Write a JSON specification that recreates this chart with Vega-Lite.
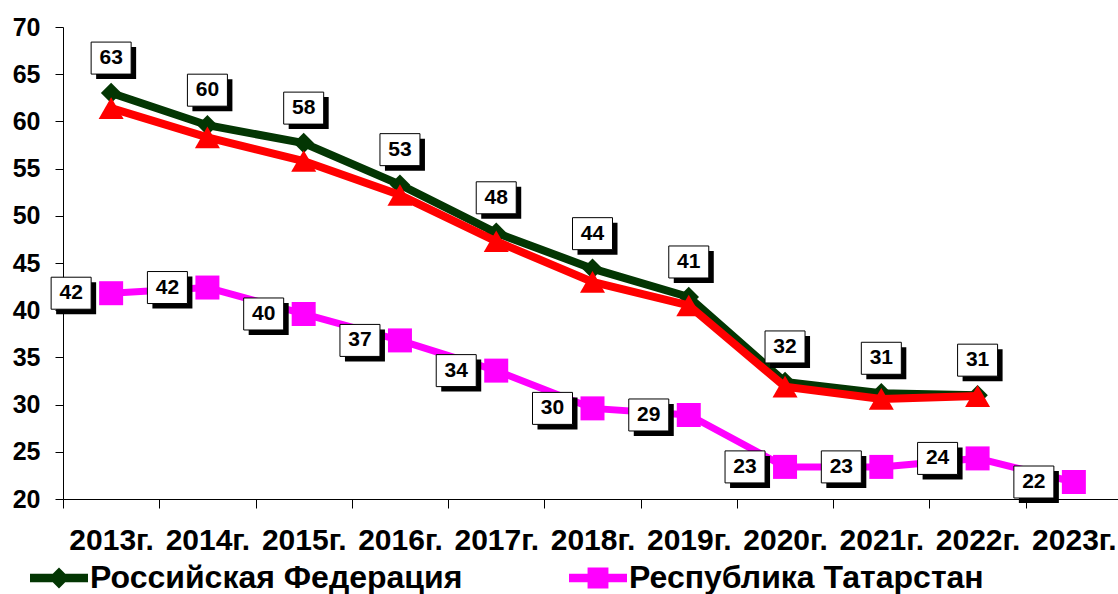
{
  "$schema": "https://vega.github.io/schema/vega-lite/v6.json",
  "width": 1055,
  "height": 472,
  "autosize": {"type": "none"},
  "padding": {"left": 63, "top": 27, "right": 0, "bottom": 95},
  "background": "white",
  "config": {
    "view": {"stroke": null},
    "axis": {"labelFont": "Liberation Sans", "labelFontWeight": "bold", "labelColor": "black", "domainColor": "black", "tickColor": "black", "domainWidth": 1, "tickWidth": 1, "grid": false, "title": null}
  },
  "data": {"values": [
    {"year": "2013г.", "series": "Российская Федерация", "value": 63.0},
    {"year": "2014г.", "series": "Российская Федерация", "value": 59.6},
    {"year": "2015г.", "series": "Российская Федерация", "value": 57.7},
    {"year": "2016г.", "series": "Российская Федерация", "value": 53.3},
    {"year": "2017г.", "series": "Российская Федерация", "value": 48.2},
    {"year": "2018г.", "series": "Российская Федерация", "value": 44.4},
    {"year": "2019г.", "series": "Российская Федерация", "value": 41.4},
    {"year": "2020г.", "series": "Российская Федерация", "value": 32.4},
    {"year": "2021г.", "series": "Российская Федерация", "value": 31.2},
    {"year": "2022г.", "series": "Российская Федерация", "value": 31.0},
    {"year": "2013г.", "series": "ПФО", "value": 61.4},
    {"year": "2014г.", "series": "ПФО", "value": 58.3},
    {"year": "2015г.", "series": "ПФО", "value": 55.8},
    {"year": "2016г.", "series": "ПФО", "value": 52.2},
    {"year": "2017г.", "series": "ПФО", "value": 47.3},
    {"year": "2018г.", "series": "ПФО", "value": 43.0},
    {"year": "2019г.", "series": "ПФО", "value": 40.5},
    {"year": "2020г.", "series": "ПФО", "value": 31.9},
    {"year": "2021г.", "series": "ПФО", "value": 30.6},
    {"year": "2022г.", "series": "ПФО", "value": 30.9},
    {"year": "2013г.", "series": "Республика Татарстан", "value": 41.8},
    {"year": "2014г.", "series": "Республика Татарстан", "value": 42.4},
    {"year": "2015г.", "series": "Республика Татарстан", "value": 39.6},
    {"year": "2016г.", "series": "Республика Татарстан", "value": 36.8},
    {"year": "2017г.", "series": "Республика Татарстан", "value": 33.6},
    {"year": "2018г.", "series": "Республика Татарстан", "value": 29.6},
    {"year": "2019г.", "series": "Республика Татарстан", "value": 28.9},
    {"year": "2020г.", "series": "Республика Татарстан", "value": 23.4},
    {"year": "2021г.", "series": "Республика Татарстан", "value": 23.4},
    {"year": "2022г.", "series": "Республика Татарстан", "value": 24.3},
    {"year": "2023г.", "series": "Республика Татарстан", "value": 21.8}
  ]},
  "encoding": {
    "x": {"field": "year", "type": "ordinal", "sort": null,
      "scale": {"type": "band", "paddingInner": 0, "paddingOuter": 0, "range": [0, 1059]},
      "axis": {"labelAngle": 0, "labelFontSize": 30, "tickSize": 9, "tickBand": "extent", "labelPadding": 17, "labelOverlap": false, "labelBound": false, "labelLimit": 0}},
    "y": {"field": "value", "type": "quantitative",
      "scale": {"domain": [20, 70], "zero": false, "nice": false},
      "axis": {"values": [20, 25, 30, 35, 40, 45, 50, 55, 60, 65, 70], "labelFontSize": 25, "tickSize": 8, "labelPadding": 15}}
  },
  "layer": [
    {
      "transform": [{"filter": "datum.series === 'Российская Федерация'"}],
      "mark": {"type": "line", "strokeWidth": 8},
      "encoding": {"color": {"field": "series", "type": "nominal",
        "scale": {"domain": ["Российская Федерация", "Республика Татарстан", "ПФО"], "range": ["#033603", "#ff00ff", "#ff0000"]},
        "legend": {"orient": "none", "legendX": -33, "legendY": 522, "columns": 2, "columnPadding": 106, "symbolSize": 3364,
          "labelFont": "Liberation Sans", "labelFontSize": 32, "labelFontWeight": "bold", "labelColor": "black", "labelOffset": 2, "labelLimit": 0,
          "title": null, "values": ["Российская Федерация", "Республика Татарстан"],
          "encode": {"symbols": {"update": {
            "shape": {"signal": "datum.value === 'Российская Федерация' ? 'M-1,-0.15H1V0.15H-1Z M0,-0.36L0.36,0L0,0.36L-0.36,0Z' : 'M-1,-0.15H1V0.15H-1Z M-0.36,-0.36H0.36V0.36H-0.36Z'"},
            "fill": {"signal": "datum.value === 'Российская Федерация' ? '#033603' : '#ff00ff'"},
            "fillOpacity": {"value": 1},
            "strokeWidth": {"value": 0}
          }}}}}}
    },
    {
      "transform": [{"filter": "datum.series === 'Российская Федерация'"}],
      "mark": {"type": "point", "shape": "diamond", "filled": true, "size": 420, "opacity": 1},
      "encoding": {"color": {"field": "series", "type": "nominal"}}
    },
    {
      "transform": [{"filter": "datum.series === 'ПФО'"}],
      "mark": {"type": "line", "strokeWidth": 8},
      "encoding": {"color": {"field": "series", "type": "nominal"}}
    },
    {
      "transform": [{"filter": "datum.series === 'ПФО'"}],
      "mark": {"type": "point", "shape": "triangle-up", "filled": true, "size": 625, "opacity": 1},
      "encoding": {"color": {"field": "series", "type": "nominal"}}
    },
    {
      "transform": [{"filter": "datum.series === 'Республика Татарстан'"}],
      "mark": {"type": "line", "strokeWidth": 7},
      "encoding": {"color": {"field": "series", "type": "nominal"}}
    },
    {
      "transform": [{"filter": "datum.series === 'Республика Татарстан'"}],
      "mark": {"type": "point", "shape": "square", "filled": true, "size": 576, "opacity": 1},
      "encoding": {"color": {"field": "series", "type": "nominal"}}
    },
    {
      "transform": [{"filter": "datum.series === 'Российская Федерация'"}],
      "mark": {"type": "point", "shape": "M-1,-0.8H1V0.8H-1Z", "size": 1600, "filled": true, "fill": "black", "opacity": 1, "strokeWidth": 0, "xOffset": 5, "yOffset": -30}
    },
    {
      "transform": [{"filter": "datum.series === 'Российская Федерация'"}],
      "mark": {"type": "point", "shape": "M-1,-0.8H1V0.8H-1Z", "size": 1600, "filled": true, "fill": "white", "stroke": "black", "strokeWidth": 1, "opacity": 1, "xOffset": 0, "yOffset": -35}
    },
    {
      "transform": [{"filter": "datum.series === 'Российская Федерация'"}],
      "mark": {"type": "text", "font": "Liberation Sans", "fontWeight": "bold", "fontSize": 21, "color": "black", "align": "center", "baseline": "middle", "xOffset": 0, "yOffset": -35},
      "encoding": {"text": {"field": "value", "type": "quantitative", "format": ".0f"}}
    },
    {
      "transform": [{"filter": "datum.series === 'Республика Татарстан'"}],
      "mark": {"type": "point", "shape": "M-1,-0.8H1V0.8H-1Z", "size": 1600, "filled": true, "fill": "black", "opacity": 1, "strokeWidth": 0, "xOffset": -35, "yOffset": 5}
    },
    {
      "transform": [{"filter": "datum.series === 'Республика Татарстан'"}],
      "mark": {"type": "point", "shape": "M-1,-0.8H1V0.8H-1Z", "size": 1600, "filled": true, "fill": "white", "stroke": "black", "strokeWidth": 1, "opacity": 1, "xOffset": -40, "yOffset": 0}
    },
    {
      "transform": [{"filter": "datum.series === 'Республика Татарстан'"}],
      "mark": {"type": "text", "font": "Liberation Sans", "fontWeight": "bold", "fontSize": 21, "color": "black", "align": "center", "baseline": "middle", "xOffset": -40, "yOffset": 0},
      "encoding": {"text": {"field": "value", "type": "quantitative", "format": ".0f"}}
    }
  ]
}
